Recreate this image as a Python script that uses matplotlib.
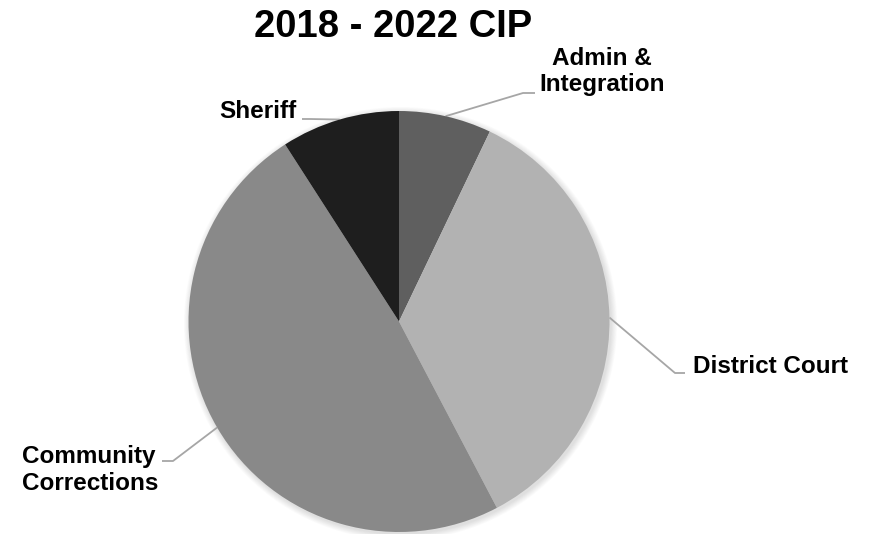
import numpy as np
import matplotlib.pyplot as plt
from matplotlib.patches import Circle

# CIP share by department (percent)
labels = ['Admin &\nIntegration', 'District Court', 'Community\nCorrections', 'Sheriff']
shares = [7.1, 35.2, 48.6, 9.1]
colors = ['#5f5f5f', '#b2b2b2', '#898989', '#1e1e1e']

W, H = 873, 534
plt.rcParams['font.family'] = ['Liberation Sans', 'DejaVu Sans']

fig = plt.figure(figsize=(W / 100, H / 100), dpi=100)
ax = fig.add_axes([0, 0, 1, 1])

cx, cy, r = 399, H - 321.5, 210.5

# soft shadow under the pie
for k in range(8):
    ax.add_patch(Circle((cx + 1.5, cy - 2), r + 0.5 + k * 0.8, color='black',
                        alpha=0.016, lw=0, zorder=0))

wedges, _ = ax.pie(shares, colors=colors, startangle=90, counterclock=False,
                   center=(cx, cy), radius=r, frame=True,
                   wedgeprops=dict(linewidth=0))
for w in wedges:
    w.set_zorder(2)

# text anchor (x, first baseline), elbow, end of leader, alignment
label_pos = [
    ((602, 65), (523, 93), (535, 93), 'center'),
    ((693, 373), (675, 373), (685, 373), 'left'),
    ((22, 463), (173, 461), (162, 461), 'left'),
    ((297, 118), (310, 119), (302, 119), 'right'),
]
line_gap = 26.5

for w, lab, (txt, elbow, tip, ha) in zip(wedges, labels, label_pos):
    mid = np.deg2rad((w.theta1 + w.theta2) / 2)
    ex, ey = cx + r * np.cos(mid), cy + r * np.sin(mid)
    ax.plot([ex, elbow[0], tip[0]], [ey, H - elbow[1], H - tip[1]],
            color='#a6a6a6', lw=1.3, zorder=1, solid_capstyle='butt')
    for i, line in enumerate(lab.split('\n')):
        ax.text(txt[0], H - txt[1] - i * line_gap, line, ha=ha, va='baseline',
                fontsize=17.5, fontweight='bold', color='black')

ax.text(393, H - 37, '2018 - 2022 CIP', ha='center', va='baseline',
        fontsize=27.5, fontweight='bold', color='black')

ax.set_xlim(0, W)
ax.set_ylim(0, H)
ax.set_aspect('auto')
ax.axis('off')

fig.savefig('out.png', dpi=100, facecolor='white')
